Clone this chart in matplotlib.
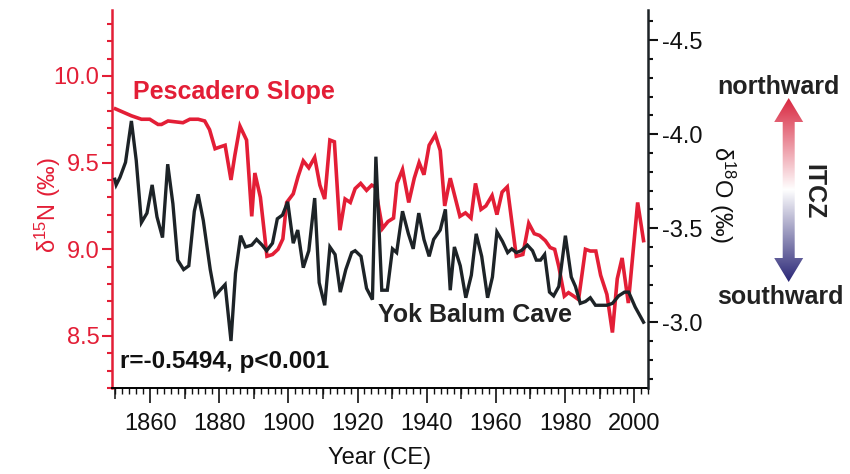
import matplotlib.pyplot as plt
import numpy as np
from matplotlib.colors import LinearSegmentedColormap
from matplotlib.patches import Polygon
from matplotlib.ticker import MultipleLocator

plt.rcParams['font.family'] = ['Liberation Sans', 'DejaVu Sans']
plt.rcParams['mathtext.default'] = 'regular'
plt.rcParams['axes.unicode_minus'] = False

# Pescadero Slope d15N (left axis)
ps_year = [1850.0, 1854.6, 1857.5, 1859.9, 1862.3, 1863.3, 1865.2, 1869.5, 1871.5, 1873.9,
           1875.8, 1877.2, 1878.8, 1880.2, 1881.7, 1883.4, 1884.5, 1886.0, 1887.9, 1889.4,
           1890.3, 1891.9, 1893.8, 1895.4, 1897.0, 1898.4, 1899.5, 1901.4, 1902.8, 1904.3,
           1905.9, 1907.6, 1909.1, 1910.5, 1912.0, 1913.3, 1914.9, 1916.4, 1917.9, 1919.3,
           1920.9, 1922.6, 1924.1, 1925.1, 1927.2, 1928.8, 1930.4, 1931.4, 1933.0, 1934.8,
           1936.4, 1937.8, 1939.2, 1940.7, 1942.5, 1943.9, 1945.2, 1946.8, 1948.2, 1949.6,
           1951.2, 1952.8, 1954.1, 1955.7, 1957.1, 1958.9, 1960.3, 1961.8, 1963.3, 1965.9,
           1967.8, 1969.5, 1971.1, 1972.6, 1974.3, 1975.7, 1977.0, 1978.2, 1979.8, 1981.0,
           1982.5, 1983.9, 1985.9, 1987.3, 1988.9, 1990.3, 1992.1, 1993.7, 1995.1, 1996.5,
           1998.3, 2001.0, 2002.7]
ps_d15n = [9.81, 9.77, 9.75, 9.75, 9.72, 9.72, 9.74, 9.73, 9.75, 9.75,
           9.74, 9.69, 9.58, 9.59, 9.60, 9.40, 9.54, 9.71, 9.63, 9.19,
           9.44, 9.30, 8.96, 8.97, 9.00, 9.06, 9.27, 9.32, 9.42, 9.51,
           9.47, 9.53, 9.37, 9.29, 9.63, 9.62, 9.11, 9.29, 9.27, 9.35,
           9.38, 9.34, 9.37, 9.36, 9.12, 9.16, 9.18, 9.38, 9.46, 9.27,
           9.41, 9.50, 9.43, 9.60, 9.66, 9.57, 9.25, 9.41, 9.30, 9.19,
           9.21, 9.18, 9.38, 9.23, 9.25, 9.31, 9.20, 9.33, 9.36, 8.96,
           8.97, 9.15, 9.09, 9.08, 9.05, 9.01, 9.00, 8.90, 8.73, 8.75,
           8.73, 8.71, 9.00, 8.99, 8.99, 8.85, 8.74, 8.52, 8.83, 8.95,
           8.69, 9.27, 9.05]

# Yok Balum Cave d18O (right axis, reversed)
yb_year = [1849.8, 1850.2, 1851.3, 1852.9, 1854.6, 1856.0, 1857.5, 1859.1, 1860.6, 1862.0,
           1863.6, 1865.1, 1866.6, 1868.0, 1869.7, 1871.2, 1872.8, 1873.9, 1875.4, 1877.4,
           1878.8, 1880.2, 1881.7, 1883.4, 1884.7, 1886.2, 1887.6, 1889.4, 1890.8, 1892.4,
           1893.7, 1895.4, 1896.8, 1898.3, 1899.8, 1901.4, 1902.7, 1904.3, 1905.9, 1907.6,
           1908.9, 1910.5, 1912.0, 1913.5, 1915.0, 1916.6, 1918.3, 1919.3, 1921.0, 1922.6,
           1924.3, 1925.3, 1927.0, 1928.6, 1930.1, 1931.3, 1933.0, 1934.7, 1936.1, 1937.7,
           1939.2, 1940.7, 1942.0, 1943.9, 1945.4, 1946.8, 1948.0, 1949.7, 1951.3, 1952.9,
           1954.3, 1955.9, 1957.6, 1959.0, 1960.3, 1961.9, 1963.4, 1964.6, 1965.9, 1967.3,
           1969.1, 1970.6, 1971.7, 1972.9, 1974.1, 1975.5, 1976.7, 1978.2, 1980.1, 1981.8,
           1983.0, 1984.4, 1985.9, 1987.3, 1988.8, 1992.1, 1993.7, 1995.5, 1997.2, 1998.4,
           2000.3, 2002.7]
yb_d18o = [-3.76, -3.73, -3.77, -3.85, -4.07, -3.86, -3.53, -3.58, -3.73, -3.56,
           -3.45, -3.84, -3.63, -3.33, -3.28, -3.30, -3.59, -3.68, -3.54, -3.28,
           -3.14, -3.17, -3.20, -2.90, -3.26, -3.46, -3.40, -3.41, -3.44, -3.41,
           -3.38, -3.42, -3.55, -3.57, -3.64, -3.42, -3.49, -3.29, -3.38, -3.66,
           -3.21, -3.09, -3.40, -3.36, -3.16, -3.28, -3.37, -3.38, -3.35, -3.18,
           -3.12, -3.88, -3.17, -3.17, -3.39, -3.37, -3.59, -3.47, -3.39, -3.58,
           -3.44, -3.35, -3.44, -3.49, -3.60, -3.17, -3.40, -3.30, -3.13, -3.25,
           -3.47, -3.35, -3.13, -3.24, -3.48, -3.43, -3.37, -3.39, -3.37, -3.38,
           -3.41, -3.38, -3.33, -3.33, -3.36, -3.16, -3.14, -3.19, -3.46, -3.24,
           -3.19, -3.10, -3.11, -3.13, -3.09, -3.09, -3.10, -3.14, -3.16, -3.16,
           -3.08, -3.00]

x_ticks = [1860, 1880, 1900, 1920, 1940, 1960, 1980, 2000]
x_mid_ticks = [1850, 1870, 1890, 1910, 1930, 1950, 1970, 1990]
left_ticks = [8.5, 9.0, 9.5, 10.0]
right_ticks = [-4.5, -4.0, -3.5, -3.0]

red = '#e31e36'
dark = '#1d2327'

fig = plt.figure(figsize=(8.5, 4.74), dpi=100)
ax = fig.add_axes([0.1318, 0.1814, 0.6306, 0.7975])
ax2 = ax.twinx()

ax.plot(ps_year, ps_d15n, color=red, lw=2.6, solid_joinstyle='miter')
ax2.plot(yb_year, yb_d18o, color=dark, lw=2.4, solid_joinstyle='miter')

ax.set_xlim(1849, 2004)
ax.set_ylim(8.2, 10.38)
ax2.set_ylim(-2.65, -4.66)

# spines
ax.spines['top'].set_visible(False)
ax.spines['right'].set_visible(False)
ax2.spines['top'].set_visible(False)
ax2.spines['left'].set_visible(False)
ax2.spines['bottom'].set_visible(False)
ax.spines['left'].set_color(red)
ax.spines['left'].set_linewidth(1.8)
ax2.spines['right'].set_color(dark)
ax2.spines['right'].set_linewidth(1.8)
ax.spines['bottom'].set_linewidth(1.4)

# x axis
ax.set_xticks(x_ticks)
ax.xaxis.set_minor_locator(MultipleLocator(2))
ax.tick_params(axis='x', which='major', length=11, width=1.2, labelsize=17, pad=7, colors='#111111')
ax.tick_params(axis='x', which='minor', length=4, width=1.0, colors='#111111')
sec = ax.secondary_xaxis('bottom')
sec.set_xticks(x_mid_ticks)
sec.tick_params(length=8, width=1.1, labelbottom=False, colors='#111111')
sec.spines['bottom'].set_visible(False)

# left y axis
ax.set_yticks(left_ticks)
ax.yaxis.set_minor_locator(MultipleLocator(0.1))
ax.tick_params(axis='y', which='both', colors=red, width=1.5)
ax.tick_params(axis='y', which='major', length=7, pad=2, labelsize=17)
ax.tick_params(axis='y', which='minor', length=3.5)

# right y axis
ax2.set_yticks(right_ticks)
ax2.yaxis.set_minor_locator(MultipleLocator(0.1))
ax2.tick_params(axis='y', which='both', colors='#111111', width=1.5)
ax2.tick_params(axis='y', which='major', length=7, pad=3, labelsize=17)
ax2.tick_params(axis='y', which='minor', length=3.5)

# labels
fig.text(0.447, 0.034, 'Year (CE)', ha='center', va='center', fontsize=17, color='#111111')
fig.text(0.0565, 0.5675, '\u03b4$^{15}$N (\u2030)', rotation=90, ha='center', va='center',
         fontsize=17, color=red)
fig.text(0.849, 0.589, '\u03b4$^{18}$O (\u2030)', rotation=-90, ha='center', va='center',
         fontsize=17, color='#111111')

ax.text(0.039, 0.783, 'Pescadero Slope', transform=ax.transAxes, ha='left', va='center',
        fontsize=18, fontweight='bold', color=red)
ax.text(0.496, 0.193, 'Yok Balum Cave', transform=ax.transAxes, ha='left', va='center',
        fontsize=18, fontweight='bold', color='#222222')
ax.text(0.015, 0.069, 'r=-0.5494, p<0.001', transform=ax.transAxes, ha='left', va='center',
        fontsize=17.5, fontweight='bold', color='#111111')

# ITCZ gradient double arrow
arrow_ax = fig.add_axes([770.7 / 850, 1 - 282 / 474, 36 / 850, 184 / 474])
arrow_ax.set_xlim(-18, 18)
arrow_ax.set_ylim(0, 184)
arrow_ax.axis('off')
shape = Polygon([(0, 184), (14.5, 160), (6, 160), (6, 24), (14.5, 24), (0, 0),
                 (-14.5, 24), (-6, 24), (-6, 160), (-14.5, 160)], closed=True,
                fc='none', ec='none', transform=arrow_ax.transData)
arrow_ax.add_patch(shape)
cmap = LinearSegmentedColormap.from_list('itcz', ['#2a2676', '#ffffff', '#d8253e'])
grad = np.linspace(0, 1, 256).reshape(-1, 1)
im = arrow_ax.imshow(grad, cmap=cmap, origin='lower', extent=[-18, 18, 0, 184], aspect='auto')
im.set_clip_path(shape)

fig.text(778 / 850, 1 - 87 / 474, 'northward', ha='center', va='center', fontsize=18,
         fontweight='bold', color='#222222')
fig.text(780 / 850, 1 - 297 / 474, 'southward', ha='center', va='center', fontsize=18,
         fontweight='bold', color='#222222')
fig.text(813 / 850, 1 - 192 / 474, 'ITCZ', rotation=-90, ha='center', va='center', fontsize=18,
         fontweight='bold', color='#222222')

plt.savefig('out.png', dpi=100)
plt.close()
